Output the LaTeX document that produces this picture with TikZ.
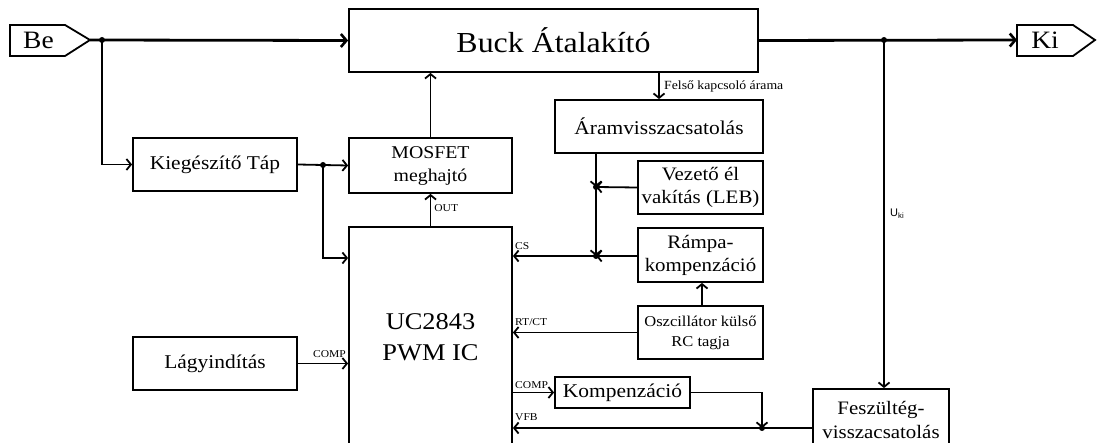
\documentclass[tikz,border=0pt]{standalone}
\usepackage{fontspec}
\setmainfont{Liberation Serif}[FakeStretch=1.1]
\newfontfamily\labsans{Liberation Sans}
\usetikzlibrary{arrows.meta,calc}
\tikzset{
  blk/.style={draw, line width=1.8pt, inner sep=0pt, align=center},
  conn/.style={line width=1.8pt, -{Straight Barb[length=4.5pt,width=11pt,line width=1.8pt]}},
  mainconn/.style={line width=2.8pt, -{Straight Barb[length=5.5pt,width=13pt,line width=2.6pt]}},
  dotc/.style={fill, circle, inner sep=0pt, minimum size=6pt},
  pin/.style={font=\fontsize{10.5}{12}\selectfont, inner sep=0pt},
  tagt/.style={draw=none, inner sep=0pt, font=\fontsize{25}{28}\selectfont},
}
\begin{document}
\begin{tikzpicture}[x=1pt,y=-1pt]
\clip (0,0) rectangle (1097,443);
\useasboundingbox (0,0) rectangle (1097,443);
% tags
\node[tagt] (be) at (38.5,40) {Be};
\draw[line width=1.8pt] (10,25) -- (65,25) -- (90,40) -- (65,56) -- (10,56) -- cycle;
\coordinate (betip) at (90,40);
\node[tagt] (ki) at (1045,40) {Ki};
\draw[line width=1.8pt] (1017,25) -- (1073,25) -- (1095,40) -- (1073,56) -- (1017,56) -- cycle;
\coordinate (kiin) at (1017,40);
% blocks
\node[blk, minimum width=409pt, minimum height=63pt, font=\fontsize{29}{31}\selectfont] (buck) at (553.5,40.5) {Buck Átalakító};
\node[blk, minimum width=164pt, minimum height=53pt, font=\fontsize{19.5}{22}\selectfont] (kieg) at (215,164.5) {Kiegészítő Táp};
\node[blk, minimum width=163pt, minimum height=55pt, font=\fontsize{18}{23}\selectfont] (mos) at (430.5,165.5) {MOSFET\\meghajtó};
\node[blk, minimum width=163pt, minimum height=223pt, font=\fontsize{24}{31}\selectfont] (uc) at (430.5,338.5) {\raisebox{6pt}{\begin{tabular}{@{}c@{}}UC2843\\PWM IC\end{tabular}}};
\node[blk, minimum width=164pt, minimum height=53pt, font=\fontsize{19.5}{22}\selectfont] (lagy) at (215,363.5) {Lágyindítás};
\node[blk, minimum width=208pt, minimum height=53pt, font=\fontsize{19.5}{22}\selectfont] (aram) at (659,126.5) {Áramvisszacsatolás};
\node[blk, minimum width=125pt, minimum height=53pt, font=\fontsize{19}{23}\selectfont] (leb) at (700.5,187.5) {Vezető él\\vakítás (LEB)};
\node[blk, minimum width=125pt, minimum height=54pt, font=\fontsize{19}{23}\selectfont] (ramp) at (700.5,255) {Rámpa-\\kompenzáció};
\node[blk, minimum width=125pt, minimum height=53pt, font=\fontsize{15}{20}\selectfont] (osc) at (700.5,332.5) {Oszcillátor külső\\RC tagja};
\node[blk, minimum width=135pt, minimum height=31pt, font=\fontsize{19.5}{22}\selectfont] (komp) at (622.5,392.5) {Kompenzáció};
\node[blk, minimum width=136pt, minimum height=61pt, font=\fontsize{19}{24}\selectfont] (fesz) at (881,419.5) {Feszültég-\\visszacsatolás};
% junctions
\coordinate (jbe) at (102,40);
\coordinate (jki) at (884,40);
\coordinate (jkieg) at (323,165);
\coordinate (jleb) at (596,187);
\coordinate (jcs) at (596,256);
\coordinate (jvfb) at (762,428);
% main path
\draw[mainconn] (betip) -- (buck.west);
\draw[mainconn] (buck.east) -- (kiin);
\node[dotc] at (jbe) {};
\node[dotc] at (jki) {};
% supply
\draw[conn] (jbe) |- (kieg.west);
\draw[conn] (kieg.east) -- (mos.west);
\node[dotc] at (jkieg) {};
\draw[conn] (jkieg) |- (uc.west |- 0,258);
% driver
\draw[conn] (mos.north) -- (buck.south -| mos.north);
\draw[conn] (uc.north) -- node[pin, right=3pt, pos=0.55] {OUT} (mos.south);
% current sense
\draw[conn] (buck.south -| 659,0) -- (aram.north);
\node[pin, anchor=west, font=\fontsize{12.5}{13}\selectfont] (felso) at (664,86) {Felső kapcsoló árama};
\draw[conn] (aram.south -| jleb) -- (jleb);
\draw[conn] (jleb) -- (jcs);
\draw[conn] (leb.west) -- (jleb);
\draw[conn] (ramp.west |- jcs) -- (jcs);
\node[dotc] at (jleb) {};
\node[dotc] at (jcs) {};
\draw[conn] (jcs) -- (uc.east |- jcs);
\node[pin, anchor=west] (cs) at (515,246) {CS};
% oscillator
\draw[conn] (osc.north -| 702,0) -- (ramp.south -| 702,0);
\draw[conn] (osc.west) -- (uc.east |- osc.west);
\node[pin, anchor=west] (rtct) at (515,322) {RT/CT};
% compensation
\draw[conn] (uc.east |- komp.west) -- (komp.west);
\node[pin, anchor=west] (compr) at (515,385.5) {COMP};
\draw[conn] (komp.east) -| (jvfb);
\draw[conn] (fesz.west |- jvfb) -- (uc.east |- jvfb);
\node[dotc] at (jvfb) {};
\node[pin, anchor=west] (vfb) at (515,417) {VFB};
% output feedback
\draw[conn] (jki) -- (fesz.north -| jki);
\node[pin, anchor=west, font=\labsans\fontsize{11}{12}\selectfont] (uki) at (890,214) {U\textsubscript{ki}};
% soft start
\draw[conn] (lagy.east) -- (uc.west |- lagy.east);
\node[pin, anchor=east] (compl) at (346,354) {COMP};
\end{tikzpicture}
\end{document}
